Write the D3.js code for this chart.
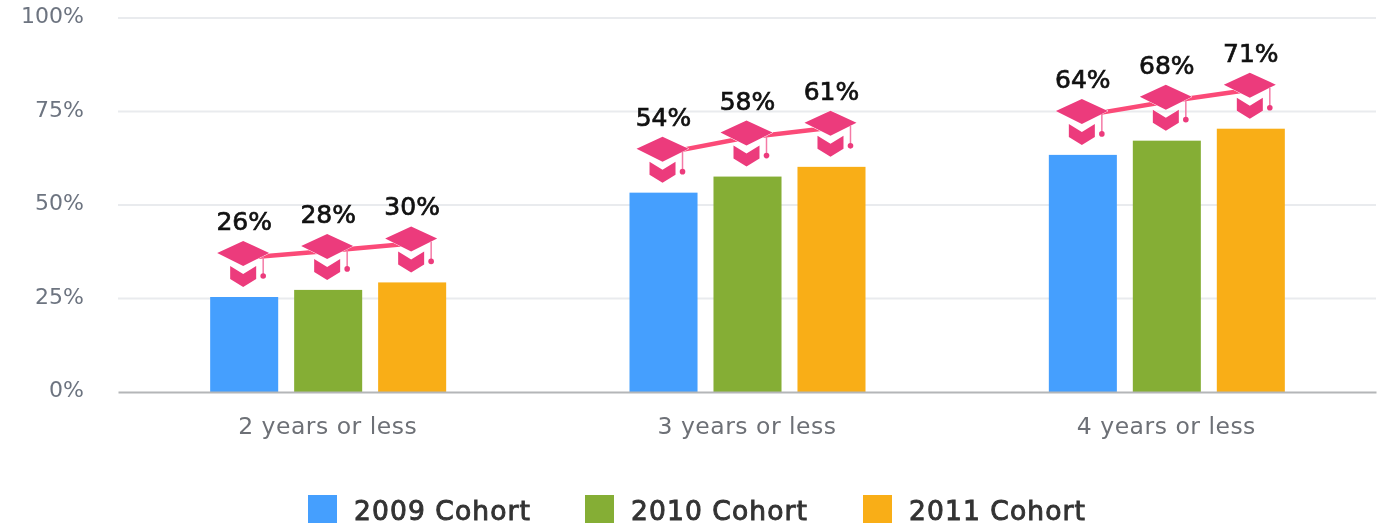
<!DOCTYPE html>
<html lang="en">

<head>
  <meta charset="UTF-8">
  <title>Cohort completion</title>
  <script src="https://d3js.org/d3.v7.min.js"></script>
  <style>
    html, body { margin: 0; padding: 0; background: #fff; overflow: hidden; }
    svg { filter: blur(0.5px); }
    text { font-family: "DejaVu Sans", sans-serif; }
  </style>
</head>

<body>
  <div id="chart"></div>

  <script>
    const categories = ["2 years or less", "3 years or less", "4 years or less"];
    const cohorts = ["2009 Cohort", "2010 Cohort", "2011 Cohort"];
    const cohort2009 = [25.4, 53.3, 63.4];
    const cohort2010 = [27.3, 57.6, 67.2];
    const cohort2011 = [29.3, 60.2, 70.4];
    const label2009 = ["26%", "54%", "64%"];
    const label2010 = ["28%", "58%", "68%"];
    const label2011 = ["30%", "61%", "71%"];
    const yTicks = [0, 25, 50, 75, 100];
    const colors = ["#459ffe", "#85ae35", "#f9ae17"];

    const width = 1387, height = 528;
    const seriesValues = [cohort2009, cohort2010, cohort2011];
    const seriesLabels = [label2009, label2010, label2011];

    const svg = d3.select("#chart").append("svg")
      .attr("width", width)
      .attr("height", height)
      .style("display", "block");

    const x = d3.scaleBand().domain(categories).range([118, 1376]);
    const xInner = d3.scaleBand().domain(cohorts).range([-117.5, 118.5]).paddingInner(0.19);
    const y = d3.scaleLinear().domain([0, 100]).range([392, 18]);

    // grid
    svg.append("g").selectAll("line")
      .data(yTicks.filter(d => d > 0))
      .enter().append("line")
      .attr("x1", 118).attr("x2", 1376)
      .attr("y1", d => y(d)).attr("y2", d => y(d))
      .attr("stroke", "#e9ebee")
      .attr("stroke-width", 2);

    // y axis
    const yAxis = svg.append("g")
      .attr("transform", "translate(84,0)")
      .call(d3.axisLeft(y).tickValues(yTicks).tickSize(0).tickPadding(0).tickFormat(d => d + "%"));
    yAxis.select(".domain").remove();
    yAxis.selectAll("text")
      .attr("font-size", 22)
      .attr("dy", "0.22em")
      .style("fill", "#6d7480");

    // bars
    const barRows = categories.flatMap((c, i) => cohorts.map((s, j) => ({
      category: c,
      cohort: s,
      value: seriesValues[j][i],
      label: seriesLabels[j][i],
      color: colors[j]
    })));
    const cx = d => x(d.category) + x.bandwidth() / 2 + xInner(d.cohort) + xInner.bandwidth() / 2;

    svg.append("g").selectAll("rect")
      .data(barRows)
      .enter().append("rect")
      .attr("x", d => x(d.category) + x.bandwidth() / 2 + xInner(d.cohort))
      .attr("y", d => y(d.value))
      .attr("width", xInner.bandwidth())
      .attr("height", d => y(0) - y(d.value))
      .attr("fill", d => d.color);

    // x axis
    const xAxis = svg.append("g")
      .attr("transform", "translate(0,392)")
      .call(d3.axisBottom(x).tickSize(0).tickPadding(25));
    xAxis.select(".domain").attr("stroke", "#b4b6b8").attr("stroke-width", 2);
    xAxis.selectAll("text")
      .attr("font-size", 23.5)
      .attr("letter-spacing", 0.5)
      .style("fill", "#6d7076");

    // trend line per group, floats above the bars
    const trendLine = d3.line().x(d => cx(d) - 1).y(d => y(d.value) - 39);
    svg.append("g").selectAll("path")
      .data(categories.map(c => barRows.filter(d => d.category === c)))
      .enter().append("path")
      .attr("d", trendLine)
      .attr("fill", "none")
      .attr("stroke", "#fb4a78")
      .attr("stroke-width", 4.5);

    // graduation cap markers
    const hats = svg.append("g").selectAll("g")
      .data(barRows)
      .enter().append("g")
      .attr("transform", d => `translate(${cx(d) - 1},${y(d.value) - 44})`);
    hats.append("path")
      .attr("d", "M0,-12L26,0L0,13L-26,0Z M-13,13L0,21L13,13L13,26L0,34L-13,26Z")
      .attr("fill", "#ec3b7c")
      .attr("stroke", "#fff")
      .attr("stroke-width", 1)
      .attr("paint-order", "stroke");
    hats.append("line")
      .attr("x1", 20).attr("x2", 20)
      .attr("y1", 3).attr("y2", 22)
      .attr("stroke", "#f47aa6")
      .attr("stroke-width", 1.5);
    hats.append("circle")
      .attr("cx", 20).attr("cy", 23).attr("r", 2.8)
      .attr("fill", "#ec3b7c");

    // value labels
    svg.append("g").selectAll("text")
      .data(barRows)
      .enter().append("text")
      .attr("x", cx)
      .attr("y", d => y(d.value) - 67)
      .attr("text-anchor", "middle")
      .attr("font-size", 25)
      .attr("stroke", "#111")
      .attr("stroke-width", 0.7)
      .attr("fill", "#111")
      .text(d => d.label);

    // legend
    const legendX = [308, 585, 863];
    const legend = svg.append("g").selectAll("g")
      .data(cohorts)
      .enter().append("g")
      .attr("transform", (d, i) => `translate(${legendX[i]},495)`);
    legend.append("rect")
      .attr("width", 29).attr("height", 28)
      .attr("fill", (d, i) => colors[i]);
    legend.append("text")
      .attr("x", 46).attr("y", 25)
      .attr("font-size", 26.5)
      .attr("letter-spacing", 1.1)
      .attr("stroke", "#333")
      .attr("stroke-width", 0.95)
      .attr("fill", "#333")
      .text(d => d);
  </script>
</body>

</html>
